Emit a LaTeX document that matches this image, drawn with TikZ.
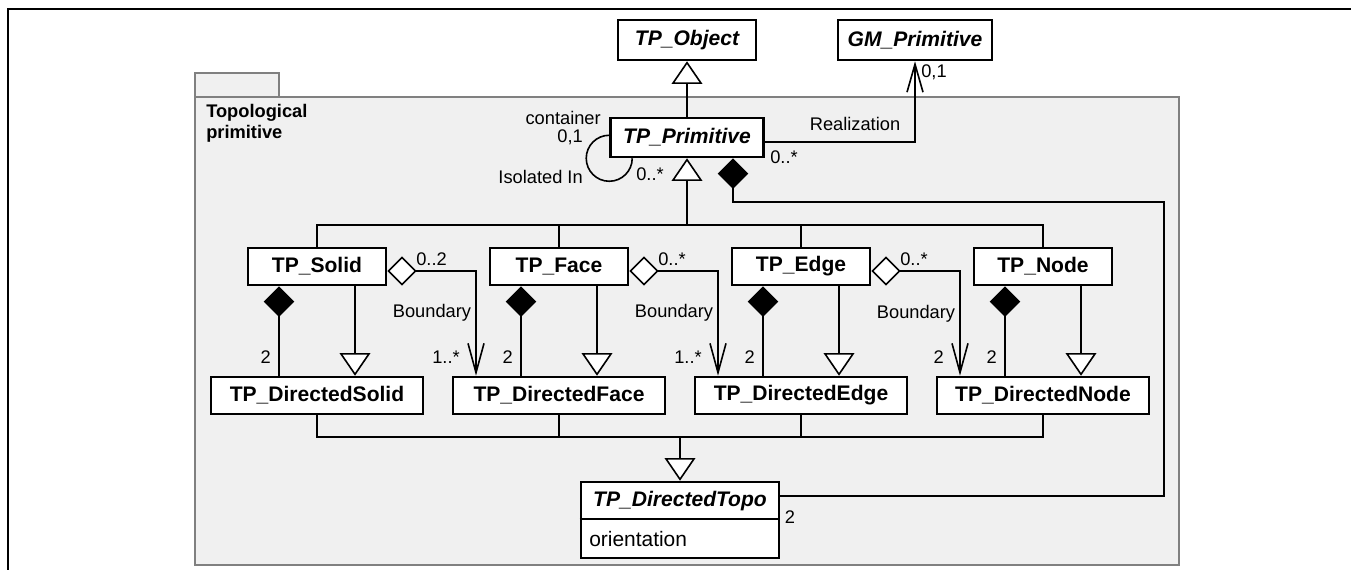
\documentclass[tikz,border=0pt]{standalone}
\usepackage{fontspec}
\setmainfont{Liberation Sans}
\usetikzlibrary{arrows.meta,calc}
\definecolor{pkgfill}{HTML}{F0F0F0}
\definecolor{pkgline}{HTML}{808080}
\begin{document}
\begin{tikzpicture}[x=0.75pt,y=-0.75pt,
  cls/.style={draw=black,line width=1.9pt,fill=white,inner sep=0pt,
    font=\fontsize{15.8}{18}\selectfont\bfseries},
  acls/.style={cls,font=\fontsize{15.8}{18}\selectfont\bfseries\itshape},
  small/.style={cls,minimum width=103.5pt,minimum height=27.75pt},
  dirbox/.style={cls,minimum width=159pt,minimum height=27.75pt},
  lbl/.style={font=\fontsize{13.7}{16}\selectfont,inner sep=0pt},
  conn/.style={line width=1.2pt},
  gen/.style={conn,-{Triangle[length=17pt,width=23pt,fill=white]}},
  compo/.style={conn,{Diamond[length=23pt,width=23pt]}-},
  aggr/.style={conn,{Diamond[length=22pt,width=22pt,fill=white]}-{Straight Barb[length=22pt,width=12pt]}},
  nav/.style={conn,-{Straight Barb[length=21pt,width=12pt]}},
  pkg/.style={draw=pkgline,fill=pkgfill,line width=1.5pt}
]
\useasboundingbox (0,0) rectangle (1351,570);
% outer frame
\draw[line width=1.5pt] (1352,9) -- (8,9) -- (8,571);
% package
\draw[pkg] (195,73) rectangle (279,97);
\draw[pkg] (195,97) rectangle (1179,565);
\node[anchor=north west,align=left,inner sep=0pt,
  font=\fontsize{13.7}{15.5}\selectfont\bfseries] (pkgname) at (206,104) {Topological\\primitive};

% classes
\node[acls,minimum width=103.5pt,minimum height=30pt] (obj) at (687,40) {TP\_Object};
\node[acls,minimum width=115.5pt,minimum height=30pt] (gm) at (915,40) {GM\_Primitive};
\node[acls,minimum width=114.75pt,minimum height=29.25pt] (prim) at (687,137.5) {TP\_Primitive};

\node[small] (solid) at (317,266.5) {TP\_Solid};
\node[small] (face) at (559,266.5) {TP\_Face};
\node[small] (edge) at (801,266.5) {TP\_Edge};
\node[small] (tnode) at (1043,266.5) {TP\_Node};

\node[dirbox] (dsolid) at (317,395.5) {TP\_DirectedSolid};
\node[dirbox] (dface) at (559,395.5) {TP\_DirectedFace};
\node[dirbox] (dedge) at (801,395.5) {TP\_DirectedEdge};
\node[dirbox] (dnode) at (1043,395.5) {TP\_DirectedNode};

\node[cls,minimum width=148.5pt,minimum height=57pt] (topo) at (680,520) {};
\coordinate (dv) at (0,519);
\draw[line width=1.9pt] (topo.west |- dv) -- (topo.east |- dv);
\node[font=\fontsize{15.8}{18}\selectfont\bfseries\itshape,inner sep=0pt] (toponame) at (680,501) {TP\_DirectedTopo};
\node[font=\fontsize{15.7}{18}\selectfont,inner sep=0pt,anchor=west] (topoattr) at (589,539) {orientation};

% generalisation TP_Primitive -> TP_Object
\draw[gen] (prim) -- (obj);

% realization
\draw[nav] ($(prim.east)+(0,4.5)$) -| (gm.south);
\node[lbl] at (855,124) {Realization};
\node[lbl,anchor=west] at (770,157) {0..*};
\node[lbl,anchor=west] at (921,72) {0,1};

% self association
\draw[conn] (prim.south west) ++(0,-23) arc[start angle=90,end angle=360,radius=17.25pt];
\node[lbl,anchor=east] at (601,118) {container};
\node[lbl,anchor=east] at (583,137) {0,1};
\node[lbl,anchor=east] at (583,177) {Isolated In};
\node[lbl,anchor=west] at (636,174) {0..*};

% upper generalisation tree
\coordinate (bus1) at (687,225);
\draw[gen] (bus1) -- (prim);
\draw[conn] (solid) |- (bus1);
\draw[conn] (face) |- (bus1);
\draw[conn] (edge) |- (bus1);
\draw[conn] (tnode) |- (bus1);

% lower generalisation tree
\coordinate (bus2) at (680,437);
\draw[gen] (bus2) -- (topo);
\draw[conn] (dsolid) |- (bus2);
\draw[conn] (dface) |- (bus2);
\draw[conn] (dedge) |- (bus2);
\draw[conn] (dnode) |- (bus2);

% composition TP_Primitive -> TP_DirectedTopo
\coordinate (c1) at (1164,202);
\draw[compo] ($(prim.south)+(46,0)$) |- (c1) |- ($(topo.north east)+(0,15)$);
\node[lbl] at (790,517) {2};

% per primitive: composition, generalisation
\foreach \a/\b in {solid/dsolid,face/dface,edge/dedge,tnode/dnode}{
  \draw[compo] ($(\a.south)+(-38,0)$) -- ($(\b.north)+(-38,0)$);
  \draw[gen] ($(\a.south)+(38,0)$) -- ($(\b.north)+(38,0)$);
  \node[lbl,anchor=east] at ($(\b.north)+(-46,-18.5)$) {2};
}

% boundary aggregations
\draw[aggr] ($(solid.east)+(0,4.5)$) -| ($(dface.north)+(-83,0)$);
\draw[aggr] ($(face.east)+(0,4.5)$) -| ($(dedge.north)+(-83,0)$);
\draw[aggr] ($(edge.east)+(0,4.5)$) -| ($(dnode.north)+(-83,0)$);

\node[lbl,anchor=west] at (416,259) {0..2};
\node[lbl] at (432,313) {Boundary};
\node[lbl,anchor=east] at (460,357) {1..*};

\node[lbl,anchor=west] at (658,259) {0..*};
\node[lbl] at (674,313) {Boundary};
\node[lbl,anchor=east] at (702,357) {1..*};

\node[lbl,anchor=west] at (900,259) {0..*};
\node[lbl] at (916,314) {Boundary};
\node[lbl,anchor=east] at (944,357) {2};
\end{tikzpicture}
\end{document}
